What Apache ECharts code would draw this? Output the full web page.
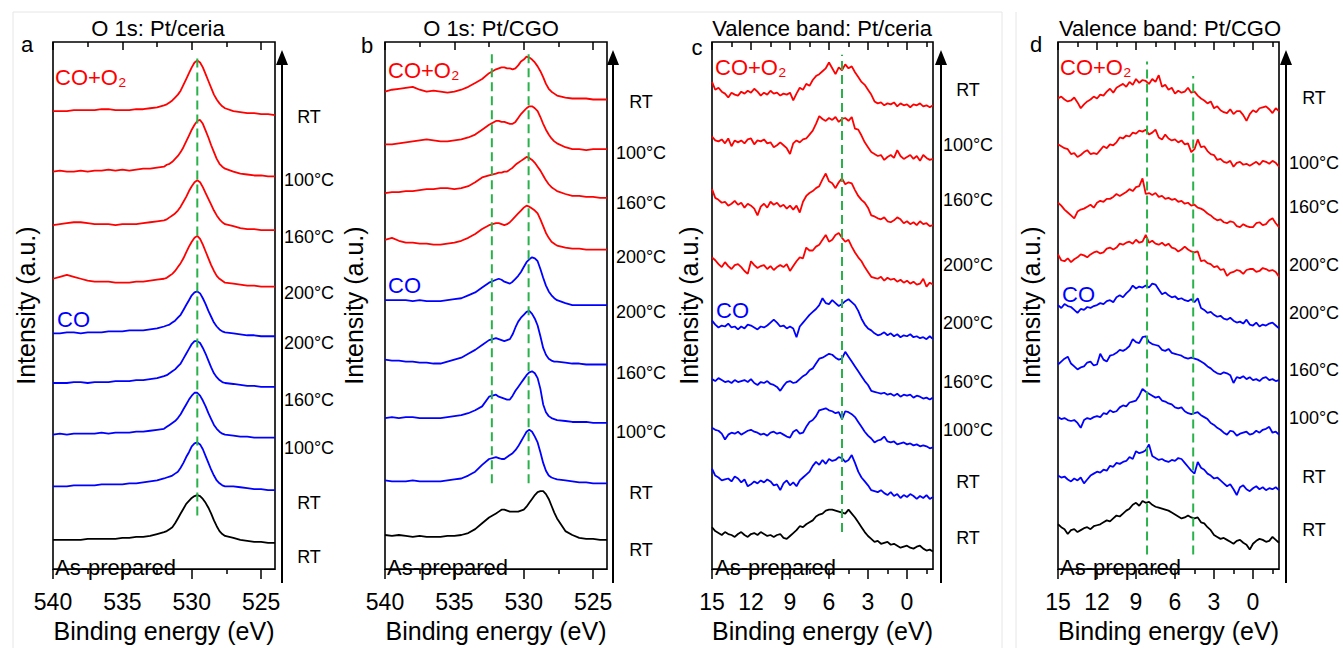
<!DOCTYPE html>
<html><head><meta charset="utf-8">
<script src="https://cdn.jsdelivr.net/npm/echarts@6.0.0/dist/echarts.min.js"></script>
<style>html,body{margin:0;padding:0;background:#fff}#c{width:1343px;height:648px}</style>
</head><body><div id="c"></div><script>
// ---------------- DATA ----------------
const energyO1s = [540,539.5,539,538.5,538,537.5,537,536.5,536,535.5,535,534.5,534,533.5,533,532.5,532,531.8,531.6,531.4,531.2,531,530.8,530.6,530.4,530.2,530,529.8,529.6,529.4,529.2,529,528.8,528.6,528.4,528.2,528,527.8,527.6,527,526.5,526,525.5,525,524.5,524];
const energyVB = [15,14.75,14.5,14.25,14,13.75,13.5,13.25,13,12.75,12.5,12.25,12,11.75,11.5,11.25,11,10.75,10.5,10.25,10,9.75,9.5,9.25,9,8.75,8.5,8.25,8,7.75,7.5,7.25,7,6.75,6.5,6.25,6,5.75,5.5,5.25,5,4.75,4.5,4.25,4,3.75,3.5,3.25,3,2.75,2.5,2.25,2,1.75,1.5,1.25,1,0.75,0.5,0.25,0,-0.25,-0.5,-0.75,-1,-1.25,-1.5,-1.75,-2];
const o1sMajorTicks = [525,530,535,540];
const o1sMinorTicks = [527.5,532.5,537.5];
const vbMajorTicks = [0,3,6,9,12,15];
const vbMinorTicks = [-1.5,1.5,4.5,7.5,10.5,13.5];
const tempLabels = ['RT','100°C','160°C','200°C','200°C','160°C','100°C','RT','RT'];
const curveColors = ['#ff0000','#ff0000','#ff0000','#ff0000','#0000ff','#0000ff','#0000ff','#0000ff','#000000'];

// panel a: O 1s Pt/ceria (vertical offsets of each trace, then traces top->bottom)
const aOffsets = [470,408,353,298,242,191,138,85,30];
const aRedRT  = [0,0,0,1,1,1,1,2,2,1,1,1,2,2,3,4, 6,7,9,11,14,17,21,27,33,39,45,50,52,50,45,38,31,24,17,12,8,5,3, 0,-1,-2,-2,-3,-3,-4];
const aRed100 = [0,1,0,0,1,0,1,1,2,1,2,1,2,3,3,4, 5,7,8,10,13,16,20,25,31,37,43,48,52,53,49,42,35,27,20,13,8,5,3, 0,-2,-3,-4,-4,-5,-5];
const aRed160 = [0,1,2,3,3,2,1,1,1,0,1,1,1,2,3,4, 5,6,8,10,12,15,19,24,29,35,40,44,46,44,39,33,27,21,15,10,6,3,1, -1,-3,-4,-4,-5,-5,-5];
const aRed200 = [0,2,4,2,0,-2,-3,-3,-3,-4,-4,-4,-3,-3,-2,-1, 0,1,3,5,8,12,16,21,27,33,38,42,44,41,35,28,21,14,8,3,0,-2,-4, -5,-6,-7,-7,-8,-8,-8];
const aBlue200 = [0,0,1,1,0,1,1,1,2,2,2,3,3,3,4,5, 7,8,9,11,13,16,19,24,29,34,39,42,43,41,36,30,23,17,11,7,4,2,1, 0,-1,-2,-2,-3,-3,-3];
const aBlue160 = [0,0,0,1,1,0,1,1,1,2,2,2,3,3,4,5, 7,8,10,12,14,17,20,25,30,35,40,43,43,41,36,30,23,16,10,6,3,1,0, -1,-2,-3,-3,-4,-4,-4];
const aBlue100 = [0,1,0,1,1,1,1,2,1,2,2,2,3,3,4,5, 6,8,10,12,14,17,21,26,31,36,40,43,43,40,35,29,22,16,10,6,3,1,0, -1,-2,-2,-3,-3,-3,-3];
const aBlueRT  = [0,0,0,1,1,1,1,2,2,2,2,3,3,4,5,6, 8,9,10,11,13,15,19,24,30,35,41,44,45,43,38,31,24,17,11,6,3,1,0, 0,-1,-2,-3,-3,-4,-4];
const aBlack   = [0,0,0,0,0,1,1,1,1,1,2,2,3,3,4,6, 8,9,11,13,17,22,27,32,37,40,43,45,46,45,42,38,33,27,20,14,9,6,4, 2,0,-1,-2,-2,-3,-3];
const aDashE = [529.6];
const aDashY = [[55,525]];

// panel b: O 1s Pt/CGO
const bOffsets = [490,436,386,338,276,215,155,91,35];
const bRedRT  = [0,2,3,4,5,2,0,1,0,-1,0,2,5,9,13,19, 23,24,25,25,24,24,23,24,27,31,33,36,35,33,30,26,21,15,8,3,0,-2,-4, -6,-7,-7,-7,-8,-8,-8];
const bRed100 = [0,0,1,2,3,4,5,4,3,3,4,5,7,10,15,20, 24,24,23,23,22,21,21,23,27,31,34,37,39,39,37,34,28,21,15,10,6,3,1, -3,-5,-5,-6,-5,-5,-5];
const bRed160 = [0,1,1,2,2,3,4,4,5,5,4,5,7,11,16,18, 20,21,21,22,22,24,26,29,31,33,35,37,36,34,31,27,23,18,13,9,6,4,2, -1,-3,-3,-4,-4,-5,-5];
const bRed200 = [0,2,-1,-3,-3,-4,-4,-5,-5,-4,-3,-1,2,6,11,15, 17,17,16,15,16,18,21,24,27,30,33,35,34,32,30,27,21,14,7,2,-2,-4,-6, -8,-9,-9,-10,-10,-10,-10];
const bBlue200 = [0,0,0,0,-1,0,-1,-1,-1,0,1,2,5,8,13,18, 21,22,21,19,18,17,19,22,25,29,34,39,42,44,43,40,32,23,15,9,5,2,0, -3,-5,-5,-5,-5,-5,-5];
const bBlue160 = [0,-1,-1,-2,-2,-3,-3,-4,-4,-2,0,2,6,10,15,20, 22,21,20,19,20,21,26,33,39,43,46,49,50,47,42,35,24,12,5,1,-1,-2,-2, -3,-4,-4,-5,-5,-5,-5];
const bBlue100 = [0,1,0,1,1,0,0,0,0,1,2,3,5,8,12,22, 24,22,21,20,19,19,23,28,32,36,40,44,47,48,46,41,30,14,6,2,0,-1,-2, -3,-4,-4,-4,-5,-5,-5];
const bBlueRT  = [0,-1,-1,-1,0,-1,-1,-1,-1,0,1,2,5,9,16,22, 24,23,22,22,24,26,28,31,35,40,45,50,52,50,45,39,29,18,10,5,3,2,1, 0,-1,-2,-2,-3,-3,-3];
const bBlack   = [0,-1,0,-1,-2,-1,-2,-2,-2,-1,-1,0,2,6,12,18, 22,24,26,26,25,24,24,24,24,25,26,29,33,37,41,44,45,45,42,37,30,23,17, 4,0,-3,-4,-4,-5,-5];
const bDashE = [532.3, 529.65];
const bDashY = [[88,533],[88,533]];

// panel c: valence band Pt/ceria
const cOffsets = [490,440,383,320,251,195,143,100,41];
const cRedRT = [10,2,4,0,-2,-6,-1,-3,-4,0, -2,1,-1,3,0,-4,-1,-3,1,-2, -1,-4,-2,-3,-1,-9,-2,4,2,8, 6,12,16,18,21,24,30,24,18,25, 22,28,24,26,20,15,10,7,2,-3, -10,-12,-11,-14,-12,-13,-11,-15,-12,-14, -13,-16,-13,-14,-12,-15,-14,-16,-14];
const cRed100 = [4,0,-1,1,-3,2,-6,0,-2,0, -3,1,2,-4,0,-1,1,-3,-2,-7, -5,-2,-5,-8,-14,-3,0,-2,1,2, 6,10,17,25,22,20,23,21,24,19, 22,23,20,24,12,11,5,-2,-7,-12, -14,-16,-15,-20,-17,-15,-18,-10,-16,-19, -17,-15,-19,-16,-21,-15,-18,-20,-19];
const cRed160 = [7,-2,-4,-7,-6,-10,-8,-5,-9,-7, -12,-8,-10,-13,-20,-11,-8,-12,-6,-9, -7,-11,-9,-13,-10,-14,-10,-17,-6,0, 3,5,8,10,17,23,15,13,8,14, 18,12,14,13,6,0,-4,-7,-12,-20, -21,-23,-24,-22,-26,-27,-25,-22,-24,-28, -26,-29,-27,-30,-26,-29,-28,-31,-30];
const cRed200 = [0,-3,-7,-10,-5,-9,-12,-8,-7,-10, -14,-17,-4,-8,-11,-9,-8,-12,-9,-13, -10,-8,-10,-7,-14,-9,-4,0,-1,10, 7,7,11,13,18,23,16,18,23,25, 20,16,18,11,5,0,-4,-10,-15,-20, -21,-22,-20,-24,-21,-23,-22,-25,-23,-26, -24,-27,-25,-28,-27,-22,-30,-26,-28];
const cBlue200 = [4,0,-3,-1,-2,1,-3,-2,-5,-2, -4,0,-1,-3,-5,-2,-3,-1,2,5, 2,-2,-1,-4,-2,-4,-13,-2,2,6, 10,13,16,20,27,22,21,25,22,19, 21,24,26,23,20,14,6,0,-4,-6, -9,-11,-10,-8,-11,-9,-12,-10,-13,-11, -12,-10,-13,-12,-14,-13,-15,-12,-15];
const cBlue160 = [0,-2,1,-1,-3,-2,-4,-1,-3,-2, -1,-3,0,-4,-6,-3,-4,-2,-5,-6, -8,-12,-7,-3,-2,-4,-3,0,3,5, 9,11,16,21,22,24,26,25,22,20, 21,28,23,18,13,8,3,-2,-6,-12, -13,-14,-15,-14,-16,-15,-17,-15,-18,-16, -17,-16,-19,-17,-18,-20,-19,-21,-19];
const cBlue100 = [2,0,-1,-4,-10,-5,-3,-4,-2,-5, -3,-1,0,-2,-3,-5,-4,-6,-3,-2, -4,-3,-5,-7,-8,-2,0,-4,-3,3, 8,10,14,20,21,22,20,19,17,18, 11,19,18,16,13,8,3,-2,-6,-9, -13,-11,-10,-7,-12,-13,-12,-15,-14,-13, -15,-14,-16,-15,-17,-16,-17,-19,-18];
const cBlueRT = [3,-4,-6,-9,-8,-7,-10,-5,-7,-11, -8,-15,-13,-10,-12,-9,-11,-8,-10,-14, -13,-19,-12,-9,-14,-11,-15,-9,-6,-3, 0,6,10,7,12,8,13,11,12,15, 14,10,12,17,9,0,-6,-10,-14,-19, -20,-21,-19,-22,-24,-21,-25,-23,-27,-24, -26,-23,-25,-28,-25,-27,-24,-28,-26];
const cBlack = [2,-2,-4,-6,-3,-5,-6,-8,-5,-3, -6,-8,-5,-4,-6,-3,-5,-7,-6,-8, -6,-5,-9,-10,-7,-4,-1,3,2,5, 7,9,13,15,16,19,20,20,19,18, 17,16,20,16,12,7,2,-3,-7,-10, -13,-12,-15,-14,-13,-16,-15,-17,-19,-18, -17,-19,-20,-18,-17,-20,-22,-21,-23];
const cDashE = [5.0];
const cDashY = [[38,528]];

// panel d: valence band Pt/CGO
const dOffsets = [483,435,373,320,270,210,156,96,46];
const dRedRT = [0,2,-1,-3,-2,1,-4,-10,-6,-3, -1,2,0,4,3,7,10,6,11,13, 15,12,17,14,20,16,19,18,15,20, 17,24,12,14,9,11,5,8,6,7, 11,6,7,3,0,-2,-5,-3,-10,-8, -12,-14,-15,-11,-16,-13,-13,-17,-23,-16, -12,-14,-10,-9,-8,-11,-15,-10,-13];
const dRed100 = [1,-1,-3,-4,-9,-8,-12,-10,-7,-5, -9,-8,-9,-5,-1,-3,1,0,3,8, 7,10,9,13,12,15,14,16,11,13, 16,8,6,11,7,5,6,3,5,1, 2,-7,-4,6,-2,-1,-6,-9,-10,-15, -14,-17,-18,-16,-22,-18,-17,-20,-19,-21, -19,-17,-20,-16,-17,-19,-16,-18,-22];
const dRed160 = [3,0,-4,-7,-10,-13,-6,-4,-3,-1, 1,-2,3,5,4,7,7,9,12,10, 12,14,17,15,19,20,28,12,13,11, 13,9,10,7,8,6,7,4,5,2, 3,0,1,-2,-3,-5,-8,-10,-13,-15, -14,-17,-18,-16,-17,-21,-22,-19,-21,-22, -22,-18,-17,-20,-19,-15,-13,-18,-22];
const dRed200 = [3,-3,-4,-1,-5,-2,0,3,2,0, 3,5,6,4,5,9,10,8,10,14, 13,15,16,14,18,15,16,23,15,17, 14,13,15,12,14,10,9,6,8,11, 8,6,5,6,-4,-3,-6,-7,-10,-9, -13,-12,-19,-16,-15,-13,-14,-17,-13,-12, -12,-15,-14,-11,-12,-14,-13,-15,-20];
const dBlue200 = [1,-2,2,0,-1,-4,-7,-3,-4,-1, -2,0,1,3,2,5,6,4,9,11, 9,13,16,21,18,20,19,21,19,23, 22,17,12,14,11,9,10,7,8,6, 5,7,4,8,-2,-4,-7,-6,-9,-11, -10,-13,-14,-12,-15,-17,-16,-18,-14,-19, -20,-17,-21,-19,-20,-18,-17,-20,-23];
const dBlue160 = [0,3,6,8,1,-2,-5,-3,-2,2, 3,-1,0,11,5,3,9,10,12,15, 14,16,19,26,23,22,28,29,23,21, 20,19,15,14,16,12,11,10,9,7, 6,7,6,5,3,1,-2,-4,-7,-9, -10,-8,-9,-11,-19,-13,-14,-12,-15,-13, -16,-15,-17,-14,-13,-16,-15,-17,-16];
const dBlue100 = [0,-2,-1,-3,-4,-3,-6,-11,-3,-1, -2,0,1,0,4,3,7,5,6,10, 12,11,15,16,17,22,29,26,24,22, 20,21,17,16,14,13,10,9,10,6, 4,3,4,5,2,0,-2,-6,-8,-11, -13,-16,-18,-14,-15,-19,-17,-16,-15,-18, -17,-14,-16,-13,-12,-10,-16,-15,-18];
const dBlueRT = [0,-2,-1,-4,-6,-3,-5,-2,-8,-4, 0,2,4,3,6,5,10,9,13,12, 14,15,19,17,25,23,24,26,32,20, 18,16,17,15,14,16,15,18,17,13, 9,5,2,14,8,6,2,0,-3,-2, -5,-8,-11,-9,-14,-20,-12,-10,-14,-16, -13,-11,-14,-12,-15,-13,-14,-12,-15];
const dBlack = [0,-3,-5,-10,-6,-5,-8,-6,-4,-3, -5,-2,-1,0,2,4,3,6,9,8, 11,14,16,20,22,19,24,22,23,20, 18,17,16,15,14,12,10,8,6,7, 9,7,6,7,2,1,-3,-6,-11,-13, -15,-14,-16,-18,-20,-17,-16,-19,-21,-26, -20,-17,-15,-16,-18,-17,-13,-16,-19];
const dDashE = [8.15, 4.6];
const dDashY = [[15,521],[15,506]];

// ---------------- LAYOUT ----------------
const FONT = '"Liberation Sans", Arial, Helvetica, sans-serif';
const GREEN = '#2ab24a';
const GRID_TOP = 42, GRID_H = 541, BOTTOM_Y = 583;
const panels = [
  {title:'O 1s: Pt/ceria', letter:'a', energy:energyO1s, min:524, max:540, major:o1sMajorTicks, minor:o1sMinorTicks,
   offsets:aOffsets, curves:[aRedRT,aRed100,aRed160,aRed200,aBlue200,aBlue160,aBlue100,aBlueRT,aBlack], dashE:aDashE, dashY:aDashY,
   left:53, width:222, yGap:15, titleX:158, letterXY:[27,44], coO2XY:[55,77], coXY:[57,319], asXY:[55,567], arrowX:282, tempX:309,
   tempY:[117,180,237,293,343,400,448,503,557]},
  {title:'O 1s: Pt/CGO', letter:'b', energy:energyO1s, min:524, max:540, major:o1sMajorTicks, minor:o1sMinorTicks,
   offsets:bOffsets, curves:[bRedRT,bRed100,bRed160,bRed200,bBlue200,bBlue160,bBlue100,bBlueRT,bBlack], dashE:bDashE, dashY:bDashY,
   left:385, width:222, yGap:19, titleX:491, letterXY:[367,45], coO2XY:[388,70], coXY:[388,285], asXY:[387,567], arrowX:613, tempX:641,
   tempY:[102,153,203,257,312,373,432,493,550]},
  {title:'Valence band: Pt/ceria', letter:'c', energy:energyVB, min:-2, max:15, major:vbMajorTicks, minor:vbMinorTicks,
   offsets:cOffsets, curves:[cRedRT,cRed100,cRed160,cRed200,cBlue200,cBlue160,cBlue100,cBlueRT,cBlack], dashE:cDashE, dashY:cDashY,
   left:712, width:221, yGap:11, titleX:822, letterXY:[697,47], coO2XY:[715,67], coXY:[716,310], asXY:[715,567], arrowX:941, tempX:968,
   tempY:[90,145,200,265,323,382,430,482,538]},
  {title:'Valence band: Pt/CGO', letter:'d', energy:energyVB, min:-2, max:15, major:vbMajorTicks, minor:vbMinorTicks,
   offsets:dOffsets, curves:[dRedRT,dRed100,dRed160,dRed200,dBlue200,dBlue160,dBlue100,dBlueRT,dBlack], dashE:dDashE, dashY:dDashY,
   left:1058, width:221, yGap:15, titleX:1170, letterXY:[1036,44], coO2XY:[1060,67], coXY:[1062,294], asXY:[1060,567], arrowX:1286, tempX:1314,
   tempY:[98,163,207,265,313,370,418,477,530]}
];

function txt(x, y, s, size, color, align) {
  const a = align || 'center';
  return {type:'text', x:x, y:y, silent:true, z:10,
    style:{text:s, fill:color||'#000', font:size+'px '+FONT, textAlign:a, textVerticalAlign:'middle', align:a, verticalAlign:'middle'}};
}

const grids = [], xAxes = [], yAxes = [], series = [], graphics = [];
// faint figure separators
graphics.push({type:'line', silent:true, shape:{x1:13,y1:12,x2:1002,y2:12}, style:{stroke:'#e6e6e6', lineWidth:1}});
graphics.push({type:'line', silent:true, shape:{x1:13,y1:12,x2:13,y2:648}, style:{stroke:'#e6e6e6', lineWidth:1}});
graphics.push({type:'line', silent:true, shape:{x1:1002,y1:12,x2:1002,y2:648}, style:{stroke:'#e6e6e6', lineWidth:1}});
graphics.push({type:'line', silent:true, shape:{x1:1016,y1:12,x2:1016,y2:648}, style:{stroke:'#e6e6e6', lineWidth:1}});

panels.forEach((p, k) => {
  grids.push({left:p.left, top:GRID_TOP, width:p.width, height:GRID_H, show:true, borderColor:'#000', borderWidth:1.6, backgroundColor:'transparent'});
  const base = {type:'value', gridIndex:k, min:p.min, max:p.max, inverse:true, axisLine:{show:false}, splitLine:{show:false}};
  const tickStyle = {color:'#000', width:1.5};
  xAxes.push(Object.assign({}, base, {position:'bottom',
    axisTick:{show:true, customValues:p.major, length:10, inside:false, lineStyle:tickStyle},
    axisLabel:{show:true, customValues:p.major, fontSize:23, color:'#000', fontFamily:FONT, margin:21},
    name:'Binding energy (eV)', nameLocation:'middle', nameGap:44,
    nameTextStyle:{fontSize:25, color:'#000', fontFamily:FONT}}));
  xAxes.push(Object.assign({}, base, {position:'bottom',
    axisTick:{show:true, customValues:p.minor, length:5, inside:false, lineStyle:tickStyle}, axisLabel:{show:false}}));
  xAxes.push(Object.assign({}, base, {position:'top',
    axisTick:{show:true, customValues:p.major, length:8, inside:true, lineStyle:tickStyle}, axisLabel:{show:false}}));
  xAxes.push(Object.assign({}, base, {position:'top',
    axisTick:{show:true, customValues:p.minor, length:5, inside:true, lineStyle:tickStyle}, axisLabel:{show:false}}));
  yAxes.push({type:'value', gridIndex:k, min:0, max:GRID_H, axisLine:{show:false}, axisTick:{show:false}, axisLabel:{show:false}, splitLine:{show:false},
    name:'Intensity (a.u.)', nameLocation:'middle', nameGap:p.yGap, nameTextStyle:{fontSize:25, color:'#000', fontFamily:FONT}});

  p.curves.forEach((vals, j) => {
    series.push({type:'line', xAxisIndex:4*k, yAxisIndex:k, showSymbol:false, symbol:'none', silent:true, animation:false, z:2,
      lineStyle:{color:curveColors[j], width:1.8},
      data:p.energy.map((e, i) => [e, p.offsets[j] + vals[i]])});
  });
  p.dashE.forEach((e, j) => {
    series.push({type:'line', xAxisIndex:4*k, yAxisIndex:k, showSymbol:false, symbol:'none', silent:true, animation:false, z:5,
      lineStyle:{color:GREEN, width:2, type:[9,5]},
      data:[[e, p.dashY[j][0]], [e, p.dashY[j][1]]]});
  });

  // annotations
  graphics.push(txt(p.titleX, 28, p.title, 22, '#000'));
  graphics.push(txt(p.letterXY[0], p.letterXY[1], p.letter, 22, '#000'));
  graphics.push(txt(p.coO2XY[0], p.coO2XY[1], 'CO+O₂', 22, '#ff0000', 'left'));
  graphics.push(txt(p.coXY[0], p.coXY[1], 'CO', 22, '#0000ff', 'left'));
  graphics.push(txt(p.asXY[0], p.asXY[1], 'As-prepared', 22, '#000', 'left'));
  tempLabels.forEach((t, j) => graphics.push(txt(p.tempX, p.tempY[j], t, 18, '#000')));
  // temperature arrow
  graphics.push({type:'line', silent:true, z:10, shape:{x1:p.arrowX, y1:BOTTOM_Y, x2:p.arrowX, y2:62}, style:{stroke:'#000', lineWidth:2}});
  graphics.push({type:'polygon', silent:true, z:10, shape:{points:[[p.arrowX-6,65],[p.arrowX+6,65],[p.arrowX,50]]}, style:{fill:'#000'}});
});

const chart = echarts.init(document.getElementById('c'), null, {renderer:'svg', width:1343, height:648});
chart.setOption({
  backgroundColor:'#ffffff',
  animation:false,
  grid:grids, xAxis:xAxes, yAxis:yAxes, series:series, graphic:graphics
});
</script></body></html>
